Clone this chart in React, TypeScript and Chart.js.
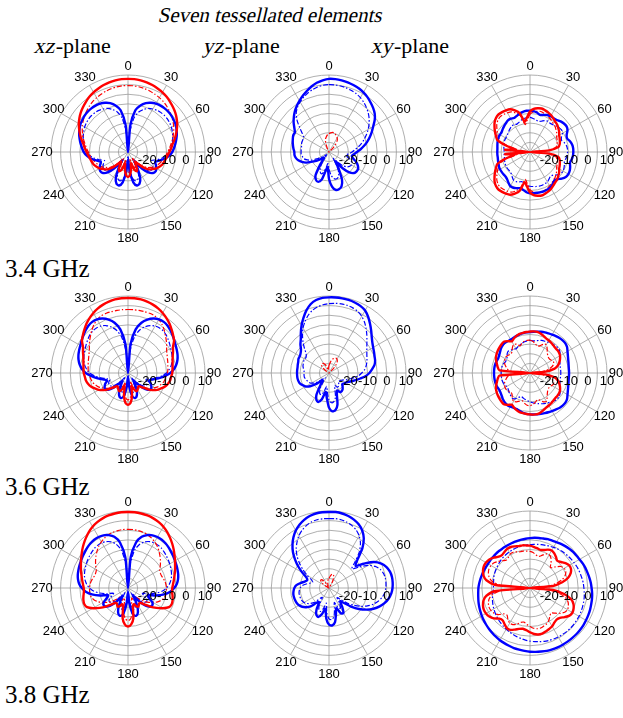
import React, { useEffect, useRef } from "react";
import { Chart, registerables } from "chart.js";

Chart.register(...registerables);

// Angle categories (degrees, clockwise from the top) and axis ticks
const ANGLES = [
  0, 5, 10, 15, 20, 25, 30, 35, 40, 45, 50, 55, 60, 65, 70, 75, 80, 85,
  90, 95, 100, 105, 110, 115, 120, 125, 130, 135, 140, 145, 150, 155, 160, 165, 170, 175,
  180, 185, 190, 195, 200, 205, 210, 215, 220, 225, 230, 235, 240, 245, 250, 255, 260, 265,
  270, 275, 280, 285, 290, 295, 300, 305, 310, 315, 320, 325, 330, 335, 340, 345, 350, 355,
];
const ANGLE_TICKS = [0, 30, 60, 90, 120, 150, 180, 210, 240, 270, 300, 330];
const R_TICK_LABELS = [-20, -10, 0, 10];
const R_MIN = -30;
const R_MAX = 10;
const R_STEP = 5;

// ---- 3.4 GHz ----
const XZ34_RED = [8, 8, 7.8, 7.5, 7, 6.4, 5.8, 5, 4, 3, 2, 0.8, -0.5, -2, -3.5, -5, -6.5, -7.5, -8.5, -9.3, -10, -10.5, -11, -12, -13, -14.5, -16, -18.5, -22, -24, -21, -19, -20, -24, -21, -18, -17, -18, -21, -24, -20, -19, -21, -24, -22, -18.5, -16, -14.5, -13, -12, -11, -10.5, -10, -9.3, -8.5, -7.5, -6.5, -5, -3.5, -2, -0.5, 0.8, 2, 3, 4, 5, 5.8, 6.4, 7, 7.5, 7.8, 8];
const XZ34_RED_DASH = [4.5, 4.5, 4.3, 4, 3.6, 3.1, 2.6, 2, 1.2, 0.3, -0.6, -1.6, -2.6, -3.8, -5, -6.2, -7.4, -8.4, -9.4, -10.2, -11, -11.8, -12.6, -13.5, -14.5, -16, -17.5, -20, -23, -26, -23, -21, -22, -26, -23, -20, -19, -20, -23, -26, -22, -21, -23, -26, -23, -20, -17.5, -16, -14.5, -13.5, -12.6, -11.8, -11, -10.2, -9.4, -8.4, -7.4, -6.2, -5, -3.8, -2.6, -1.6, -0.6, 0.3, 1.2, 2, 2.6, 3.1, 3.6, 4, 4.3, 4.5];
const XZ34_BLUE = [-30, -16, -8, -5, -3, -1.8, -1, -0.6, -0.4, -0.4, -0.6, -1, -1.4, -2.2, -3, -4, -5, -6, -7, -8.5, -10.5, -13, -15, -14, -13, -12.5, -13, -15, -19, -24, -20, -15, -12.5, -12, -14, -20, -26, -20, -14, -12, -12.5, -15, -20, -24, -19, -15, -13, -12.5, -13, -14, -15, -13, -10.5, -8.5, -7, -6, -5, -4, -3, -2.2, -1.4, -1, -0.6, -0.4, -0.4, -0.6, -1, -1.8, -3, -5, -8, -16];
const XZ34_BLUE_DASH = [-30, -20, -12, -8.5, -6.5, -5, -4.2, -3.6, -3.3, -3.2, -3.3, -3.6, -4, -4.6, -5.3, -6, -6.8, -7.6, -8.5, -10, -12, -14.5, -17, -16, -15, -14.5, -15, -17, -21, -26, -22, -17, -15, -14.5, -16, -22, -28, -22, -16, -14.5, -15, -17, -22, -26, -21, -17, -15, -14.5, -15, -16, -17, -14.5, -12, -10, -8.5, -7.6, -6.8, -6, -5.3, -4.6, -4, -3.6, -3.3, -3.2, -3.3, -3.6, -4.2, -5, -6.5, -8.5, -12, -20];

const YZ34_BLUE = [8, 8, 7.8, 7.5, 7, 6.5, 5.8, 4.8, 3.6, 2.4, 1, -1, -3.5, -5.5, -7.5, -9.5, -11.5, -13.5, -15.5, -17, -18, -17, -15, -13.5, -12.5, -12.5, -13, -15, -19, -24, -20, -14, -11, -10, -10, -12, -16, -22, -20, -15, -13.5, -14, -16, -22, -26, -26, -24, -22, -20, -17, -15, -13.5, -12.5, -12, -12, -11.5, -11, -10.5, -10, -9.5, -9.5, -8, -6, -4.2, -2.4, -0.8, 0.7, 2.2, 3.7, 5.2, 6.5, 7.4];
const YZ34_BLUE_DASH = [5, 5, 4.8, 4.5, 4, 3.4, 2.6, 1.5, 0.2, -1.2, -2.8, -4.6, -6.5, -8.5, -10.5, -12.5, -14.5, -16.5, -18, -19.5, -21, -20, -18, -17, -16.5, -17, -18, -20, -23, -26, -22, -18, -16, -15.5, -16, -18, -21, -24, -22, -19, -18, -19, -21, -25, -28, -28, -27, -25, -23, -20, -18, -16.5, -16, -15.5, -15.5, -15.5, -15.5, -15.2, -15, -15, -14.8, -13, -10, -6.5, -3.5, -1.5, 0, 1.3, 2.5, 3.5, 4.3, 4.8];
const YZ34_RED_DASH = [-20.5, -20, -19.6, -19.7, -20.2, -20.8, -21.5, -22.5, -24.5, -27, -30, -30, -30, -30, -30, -30, -30, -30, -30, -30, -30, -30, -30, -30, -30, -30, -30, -30, -30, -30, -30, -30, -30, -30, -30, -30, -30, -30, -30, -30, -30, -30, -30, -30, -30, -30, -30, -30, -30, -30, -30, -30, -30, -30, -30, -30, -30, -30, -30, -30, -30, -30, -30, -30, -30, -30, -30, -28, -25, -23, -22, -21];

const XY34_RED = [-9, -7.5, -6.9, -6.6, -7, -7.4, -8, -8.8, -9.5, -10, -10.8, -11.5, -12.5, -13, -13.5, -14, -15, -20, -30, -20, -15, -14, -13.5, -13, -12.5, -11.5, -10.8, -10, -9.5, -8.8, -8, -7.4, -7, -6.6, -6.9, -7.5, -9, -12, -14, -9, -7, -5.5, -5, -4.7, -4.5, -5, -6, -7.5, -9, -10.5, -12, -17, -22, -17, -30, -17, -22, -17, -12, -10.5, -9, -7.5, -6, -5, -4.5, -4.7, -5, -5.5, -7, -9, -14, -12];
const XY34_RED_DASH = [-10.5, -9, -8.5, -8.2, -8.6, -9, -9.6, -10.3, -11, -11.5, -12.3, -13, -14, -14.5, -15, -15.5, -16.5, -21, -30, -21, -16.5, -15.5, -15, -14.5, -14, -13, -12.3, -11.5, -11, -10.3, -9.6, -9, -8.6, -8.2, -8.5, -9, -10.5, -13.5, -15.5, -10.5, -8.5, -7, -6.5, -6.2, -6, -6.5, -7.5, -9, -10.5, -12, -13.5, -18.5, -23.5, -18.5, -30, -18.5, -23.5, -18.5, -13.5, -12, -10.5, -9, -7.5, -6.5, -6, -6.2, -6.5, -7, -8.5, -10.5, -15.5, -13.5];
const XY34_BLUE = [-8.5, -8.7, -9.2, -10, -9.5, -8.8, -8.5, -8.6, -8.3, -7.5, -7, -6.8, -7.5, -9, -9.5, -8.5, -7.8, -7.5, -7.5, -7.6, -8, -8.5, -7.8, -7.2, -7, -7.3, -8.5, -10, -10.5, -9.5, -8.8, -8.5, -8.4, -8.4, -8.5, -8.5, -8.5, -9, -10, -10.5, -10, -9.5, -9.5, -10.5, -11.5, -12, -12, -12, -12, -12.2, -12.5, -12.8, -13, -13, -13, -13, -12.8, -12.5, -12.2, -12, -12, -12, -11.5, -11, -10.5, -10, -10, -10.5, -10, -9.3, -8.8, -8.5];
const XY34_BLUE_DASH = [-12, -12.5, -13, -13.5, -13, -12, -11.5, -11.8, -11.5, -10.8, -10.3, -10, -10.5, -12, -12.5, -11.5, -10.8, -10.5, -10.5, -10.6, -11, -11.5, -11, -10.5, -10.2, -10.5, -11.5, -13, -13.5, -12.8, -12, -11.8, -11.6, -11.6, -11.8, -12, -12.2, -12.5, -13.5, -14, -13.5, -13, -13, -14, -15, -15.5, -15.5, -15.5, -15.5, -15.8, -16, -16.2, -16.5, -16.5, -16.5, -16.5, -16.2, -16, -15.8, -15.5, -15.5, -15.5, -15, -14.5, -14, -13.5, -13.5, -14, -13.5, -12.8, -12.3, -12];

// ---- 3.6 GHz ----
const XZ36_RED = [9, 9, 8.8, 8.4, 7.8, 7, 6, 4.8, 3.5, 2, 0.6, -0.8, -3, -4.2, -5.3, -6, -6.5, -6.8, -7, -7.5, -7.8, -8.5, -9.5, -11, -12.5, -14.5, -17, -19.5, -21, -21, -20, -19.5, -21, -23, -18, -14.5, -13.5, -14.5, -18, -23, -21, -19.5, -20, -21, -21, -19.5, -17, -14.5, -12.5, -11, -9.5, -8.5, -7.8, -7.5, -7, -6.8, -6.5, -6, -5.3, -4.2, -3, -0.8, 0.6, 2, 3.5, 4.8, 6, 7, 7.8, 8.4, 8.8, 9];
const XZ36_RED_DASH = [3, 3, 3, 3, 3, 2.8, 2, 0.8, -0.8, -2.5, -4, -5.5, -6.8, -7.6, -8.2, -8.6, -9, -9.2, -9.5, -10, -10.5, -11, -12, -13, -14.5, -16, -18, -20.5, -22.5, -23, -22, -21.5, -23, -25, -20.5, -17, -16, -17, -20.5, -25, -23, -21.5, -22, -23, -22.5, -20.5, -18, -16, -14.5, -13, -12, -11, -10.5, -10, -9.5, -9.2, -9, -8.6, -8.2, -7.6, -6.8, -5.5, -4, -2.5, -0.8, 0.8, 2, 2.8, 3, 3, 3, 3];
const XZ36_BLUE = [-30, -15, -7, -3, -0.5, 1.2, 2.2, 2.4, 2, 1.2, 0.3, -0.6, -1.4, -2, -2.6, -3.4, -4.5, -6, -8, -11, -14, -17, -18.5, -17, -16, -15.5, -16.5, -19, -23, -25, -22, -19, -17, -16.5, -18, -23, -28, -23, -18, -16.5, -17, -19, -22, -25, -23, -19, -16.5, -15.5, -16, -17, -18.5, -17, -14, -11, -8, -6, -4.5, -3.4, -2.6, -2, -1.4, -0.6, 0.3, 1.2, 2, 2.4, 2.2, 1.2, -0.5, -3, -7, -15];
const XZ36_BLUE_DASH = [-30, -19, -11, -7, -4.5, -2.8, -1.8, -1.4, -1.5, -2, -2.8, -3.6, -4.4, -5, -5.6, -6.3, -7.2, -8.5, -10, -12.5, -15.5, -18.5, -20, -19, -18.5, -18.5, -19.5, -22, -25, -27, -24, -21.5, -20, -19.5, -21, -25, -29, -25, -21, -19.5, -20, -21.5, -24, -27, -25, -22, -19.5, -18.5, -18.5, -19, -20, -18.5, -15.5, -12.5, -10, -8.5, -7.2, -6.3, -5.6, -5, -4.4, -3.6, -2.8, -2, -1.5, -1.4, -1.8, -2.8, -4.5, -7, -11, -19];

const YZ36_BLUE = [9.3, 9.4, 9.4, 9.3, 9, 8.5, 7.5, 5.5, 3.2, 1, -1, -2.5, -3.5, -4.2, -4.8, -5.2, -6, -7.5, -9, -11, -13.5, -15.5, -17.5, -19, -20, -20.5, -21, -20, -19, -18.5, -18.5, -20, -18, -13, -10.5, -10, -12, -17, -20, -16, -14, -14.5, -17, -22, -25, -24, -21, -18, -16, -15, -14, -13.6, -13.4, -13.4, -13.4, -13.4, -13.4, -13.2, -13, -12.5, -12.5, -12, -11, -9, -7.2, -4.5, -1.5, 1.5, 4.5, 7, 8.5, 9.2];
const YZ36_BLUE_DASH = [6, 6.3, 6.5, 6.4, 6, 5.3, 4, 2.2, 0, -2.2, -4.3, -6, -7.3, -8.3, -9, -9.7, -10.5, -11.5, -13, -14.5, -16.5, -18.5, -20, -21.5, -22.5, -23, -23.5, -23, -22, -21.5, -21.5, -23, -21, -17, -15, -14.5, -16, -20, -23, -20, -18, -18.5, -21, -25, -27, -26, -23, -21, -19.5, -18.5, -18, -17.5, -17, -17, -17, -17, -16.5, -16, -15.8, -15.5, -15.5, -15.5, -14.5, -12, -9, -6, -3, -0.5, 1.8, 3.6, 4.8, 5.6];
const YZ36_RED_DASH = [-26, -25, -23.5, -22.5, -21.8, -21.5, -21.7, -22.5, -24, -27, -30, -30, -30, -30, -30, -30, -30, -30, -30, -30, -30, -30, -30, -30, -30, -30, -30, -30, -30, -30, -30, -30, -30, -30, -30, -30, -30, -30, -30, -30, -30, -30, -30, -30, -30, -30, -30, -30, -30, -30, -30, -30, -30, -30, -30, -30, -30, -30, -30, -30, -30, -28, -26, -24.5, -24, -24, -24.2, -25, -26.5, -28, -28.5, -27.5];

const XY36_RED = [-8.5, -8.3, -8.3, -8.8, -9.5, -10.2, -10.5, -10.8, -11.2, -11.5, -11.5, -11.6, -12, -12.8, -13.8, -15, -17, -22, -30, -22, -17, -15, -13.8, -12.8, -12, -11.6, -11.5, -11.5, -11.2, -10.8, -10.5, -10.2, -9.5, -8.8, -8.3, -8.3, -8.5, -8.6, -8.8, -9, -9.5, -10.2, -11, -9.8, -8.8, -9, -9.3, -9.6, -10, -10.5, -11.3, -12.2, -13, -14, -30, -14, -13, -12.2, -11.3, -10.5, -10, -9.6, -9.3, -9, -8.8, -9.8, -11, -10.2, -9.5, -9, -8.8, -8.6];
const XY36_RED_DASH = [-13, -13.5, -14.5, -15.5, -15, -13.5, -13, -14.5, -16, -17, -17.5, -17.5, -17, -16.5, -17, -18.5, -21, -25, -30, -25, -21, -18.5, -17, -16.5, -17, -17.5, -17.5, -17, -16, -14.5, -13, -13.5, -15, -15.5, -14.5, -13.5, -13, -13.2, -14, -15, -14.5, -13.5, -13, -14, -15.5, -16, -15.5, -15, -15, -15.5, -16, -17, -18, -20, -30, -20, -18, -17, -16, -15.5, -15, -15, -15.5, -16, -15.5, -14, -13, -13.5, -15, -14, -13.2, -13];
const XY36_BLUE = [-8.7, -8.5, -8.2, -7.8, -7.5, -7.3, -7, -6.6, -6.2, -6, -6, -6.5, -7.5, -8.3, -8.9, -9.3, -9.6, -9.7, -9.7, -9.7, -9.6, -9.3, -8.9, -8.3, -7.5, -6.5, -6, -6, -6.3, -6.8, -7.2, -7.5, -7.8, -8, -8.2, -8.4, -8.5, -8.7, -9, -9.5, -10, -10, -9.8, -9.6, -9.8, -10.3, -11, -11.5, -11.8, -11.6, -11.4, -11.3, -11.3, -11.3, -11.3, -11.3, -11.3, -11.4, -11.6, -11.8, -11.5, -11, -10.3, -9.8, -9.6, -9.8, -10, -9.8, -9.5, -9.2, -9, -8.8];
const XY36_BLUE_DASH = [-13, -13.2, -13, -12.5, -12, -11.8, -11.5, -11, -10.8, -10.5, -10.5, -11, -12, -13, -13.5, -13.8, -14, -14, -14, -14, -14, -13.8, -13.5, -13, -12, -11, -10.5, -10.5, -11, -11.5, -12, -12.5, -13, -13.5, -14, -14.5, -15, -15.5, -16, -16.5, -17, -16, -14.5, -14, -14.5, -15, -15.5, -16, -16, -15.5, -15.2, -15, -15, -15, -15, -15, -15, -15.2, -15.5, -16, -16, -15.5, -14.5, -14, -14.5, -15, -15.5, -15, -14.5, -14, -13.5, -13.2];

// ---- 3.8 GHz ----
const XZ38_RED = [9.5, 9.5, 9.3, 9, 8.5, 7.8, 6.8, 5.5, 4, 2.5, 1, -0.5, -1.8, -3, -4, -5, -5.8, -6.5, -7, -7, -6.5, -6, -5.8, -6.5, -9, -12, -15, -18, -20, -20, -19, -19.5, -21, -20, -14, -11, -10, -11, -14, -20, -21, -19.5, -19, -20, -20, -18, -15, -12, -9, -6.5, -5.8, -6, -6.5, -7, -7, -6.5, -5.8, -5, -4, -3, -1.8, -0.5, 1, 2.5, 4, 5.5, 6.8, 7.8, 8.5, 9, 9.3, 9.5];
const XZ38_RED_DASH = [0.5, 0.5, 0.3, 0, -0.5, -1.3, -2.3, -3.5, -5, -6.5, -8, -9.5, -11, -11.5, -11.5, -11, -10.5, -10.2, -10, -10, -10, -10.5, -11.5, -13, -15, -17, -19.5, -22, -24, -24, -23, -23, -24.5, -23, -17, -14, -13, -14, -17, -23, -24.5, -23, -23, -24, -24, -22, -19.5, -17, -15, -13, -11.5, -10.5, -10, -10, -10, -10.2, -10.5, -11, -11.5, -11.5, -11, -9.5, -8, -6.5, -5, -3.5, -2.3, -1.3, -0.5, 0, 0.3, 0.5];
const XZ38_BLUE = [-30, -14, -6, -2.5, -0.8, 0.2, 0.6, 0.6, 0.3, -0.2, -0.8, -1.3, -1.8, -2.2, -2.6, -3, -3.6, -4.5, -6, -8, -11, -15, -19, -18, -15.5, -14.5, -15, -17, -21, -25, -22, -18, -15.5, -15, -16.5, -22, -28, -22, -16.5, -15, -15.5, -18, -22, -25, -21, -17, -15, -14.5, -15.5, -18, -19, -15, -11, -8, -6, -4.5, -3.6, -3, -2.6, -2.2, -1.8, -1.3, -0.8, -0.2, 0.3, 0.6, 0.6, 0.2, -0.8, -2.5, -6, -14];
const XZ38_BLUE_DASH = [-30, -18, -10, -6.5, -4.5, -3.4, -2.9, -2.8, -3, -3.5, -4, -4.5, -5, -5.5, -6, -6.6, -7.4, -8.5, -10, -12, -15, -18.5, -22, -21, -19, -18, -18.5, -20.5, -24, -27, -25, -21.5, -19, -18.5, -20, -25, -29, -25, -20, -18.5, -19, -21.5, -25, -27, -24, -20.5, -18.5, -18, -19, -21, -22, -18.5, -15, -12, -10, -8.5, -7.4, -6.6, -6, -5.5, -5, -4.5, -4, -3.5, -3, -2.8, -2.9, -3.4, -4.5, -6.5, -10, -18];

const YZ38_BLUE = [9.5, 9.6, 9.3, 8.7, 7.8, 6.5, 4.5, 1.5, -3, -9, -12, -8, -3, 0, 1.8, 2.8, 3.2, 3.2, 3, 2.5, 1.5, 0, -2, -4.5, -7.5, -11, -15, -19, -21, -18, -15, -15.5, -19, -16, -12, -10.5, -11, -14, -19, -16, -14, -14.5, -17, -21, -20, -16.5, -14.5, -13, -12, -11.5, -11.3, -11.2, -11.2, -11.5, -12, -13, -15, -17, -18, -17, -14, -10.5, -7, -3.5, -0.5, 2.2, 4.5, 6.3, 7.7, 8.7, 9.3, 9.5];
const YZ38_BLUE_DASH = [6, 6.2, 6, 5.5, 4.6, 3.3, 1.3, -1.5, -5.5, -11, -14.5, -11, -6.5, -3.5, -1.7, -0.7, -0.3, -0.3, -0.5, -1, -2, -3.5, -5.5, -8, -11, -14.5, -18, -21.5, -23.5, -21, -18, -18.5, -22, -19, -15, -13.5, -14, -17, -22, -19, -17, -17.5, -20, -24, -23, -19.5, -17.5, -16, -15, -14.5, -14.3, -14.2, -14.2, -14.5, -15, -16, -18, -20, -21, -20, -17, -13.5, -10, -6.5, -3.5, -1, 1.3, 3.1, 4.5, 5.5, 6, 6.1];
const YZ38_RED_DASH = [-25, -24, -23, -22.5, -23, -24.5, -27, -30, -30, -30, -30, -30, -30, -30, -30, -30, -30, -30, -30, -30, -30, -30, -30, -30, -30, -30, -30, -30, -30, -30, -30, -30, -30, -30, -30, -30, -30, -30, -30, -30, -30, -30, -30, -30, -30, -30, -30, -30, -30, -30, -30, -30, -30, -30, -30, -30, -30, -30, -30, -30, -28, -26, -24.5, -24, -24.5, -26, -28, -29, -28.5, -27.5, -26.5, -25.5];

const XY38_RED = [-8, -8.5, -9, -9.5, -9, -8, -7.5, -8, -9, -10, -9, -7.5, -6.5, -6.5, -7.5, -9.5, -13, -18, -30, -18, -12, -8, -6, -5, -4.5, -5, -6.5, -8, -8.5, -8, -7, -6.5, -6, -5.5, -5.5, -6, -7, -8, -8.5, -8, -7, -6, -6, -7, -8, -7.5, -5.5, -4.2, -3.6, -3.5, -4, -5, -7, -12, -30, -12, -7, -5, -4, -3.5, -3.6, -4.2, -5.5, -7, -7.5, -7, -6.5, -6.5, -7, -7.5, -7.5, -7.8];
const XY38_RED_DASH = [-11, -11.5, -12.5, -13, -12, -10.5, -10, -11, -13, -15, -13, -10.5, -9.5, -9.5, -10.5, -12.5, -16, -21, -30, -21, -15, -11, -9, -8, -7.5, -8, -9.5, -11.5, -13, -12, -10.5, -9.5, -9, -8.5, -8.5, -9, -10, -11, -12, -11.5, -10, -9, -9, -10, -11.5, -11, -8.5, -7.2, -6.6, -6.5, -7, -8, -10, -15, -30, -15, -10, -8, -7, -6.5, -6.6, -7.2, -8.5, -10, -11, -10.5, -9.5, -9.5, -10, -10.5, -10.5, -10.8];
const XY38_BLUE = [-4.1, -3.8, -3.6, -3.4, -3, -2.8, -2.5, -2, -1.6, -1.2, -0.8, -0.6, -0.3, 0.2, 0.6, 0.9, 1.3, 1.7, 2, 2.4, 2.7, 2.9, 3.2, 3.4, 3.6, 3.8, 3.9, 4, 4, 4, 4, 4, 3.9, 3.8, 3.5, 3.3, 3.1, 2.8, 2.5, 2.3, 1.9, 1.6, 1.3, 0.9, 0.5, 0.1, -0.3, -0.7, -1.1, -1.5, -1.9, -2.3, -2.7, -3, -3.2, -3.5, -3.8, -4.1, -4.4, -4.6, -4.8, -4.8, -4.9, -4.9, -4.9, -5, -5, -4.9, -4.8, -4.7, -4.5, -4.3];
const XY38_BLUE_DASH = [-7.5, -7.2, -7, -6.7, -6.4, -6, -5.6, -5.2, -4.8, -4.5, -4.2, -3.9, -3.6, -3.3, -3, -2.8, -2.5, -2.2, -2, -1.7, -1.4, -1.2, -1, -0.8, -0.6, -0.5, -0.4, -0.4, -0.4, -0.5, -0.6, -0.8, -1, -1.3, -1.7, -2, -2.4, -2.8, -3.3, -3.8, -4.3, -4.8, -5.3, -5.8, -6.3, -6.8, -7.3, -7.8, -8.3, -8.8, -9.3, -9.8, -10.3, -10.8, -11, -11, -10.8, -10.5, -10.2, -10, -9.8, -9.6, -9.3, -9, -8.8, -8.6, -8.4, -8.2, -8, -7.9, -7.8, -7.6];

const RED = "#ff0000";
const BLUE = "#0000ff";
const GRID = "#9a9a9a";

type Trace = { values: number[]; color: string; dashed: boolean };

// first entry is drawn on top
const PANELS: Trace[][][] = [
  [
    [
      { values: XZ34_RED, color: RED, dashed: false },
      { values: XZ34_BLUE, color: BLUE, dashed: false },
      { values: XZ34_RED_DASH, color: RED, dashed: true },
      { values: XZ34_BLUE_DASH, color: BLUE, dashed: true },
    ],
    [
      { values: YZ34_BLUE, color: BLUE, dashed: false },
      { values: YZ34_RED_DASH, color: RED, dashed: true },
      { values: YZ34_BLUE_DASH, color: BLUE, dashed: true },
    ],
    [
      { values: XY34_RED, color: RED, dashed: false },
      { values: XY34_BLUE, color: BLUE, dashed: false },
      { values: XY34_RED_DASH, color: RED, dashed: true },
      { values: XY34_BLUE_DASH, color: BLUE, dashed: true },
    ],
  ],
  [
    [
      { values: XZ36_RED, color: RED, dashed: false },
      { values: XZ36_BLUE, color: BLUE, dashed: false },
      { values: XZ36_RED_DASH, color: RED, dashed: true },
      { values: XZ36_BLUE_DASH, color: BLUE, dashed: true },
    ],
    [
      { values: YZ36_BLUE, color: BLUE, dashed: false },
      { values: YZ36_RED_DASH, color: RED, dashed: true },
      { values: YZ36_BLUE_DASH, color: BLUE, dashed: true },
    ],
    [
      { values: XY36_RED, color: RED, dashed: false },
      { values: XY36_BLUE, color: BLUE, dashed: false },
      { values: XY36_RED_DASH, color: RED, dashed: true },
      { values: XY36_BLUE_DASH, color: BLUE, dashed: true },
    ],
  ],
  [
    [
      { values: XZ38_RED, color: RED, dashed: false },
      { values: XZ38_BLUE, color: BLUE, dashed: false },
      { values: XZ38_RED_DASH, color: RED, dashed: true },
      { values: XZ38_BLUE_DASH, color: BLUE, dashed: true },
    ],
    [
      { values: YZ38_BLUE, color: BLUE, dashed: false },
      { values: YZ38_RED_DASH, color: RED, dashed: true },
      { values: YZ38_BLUE_DASH, color: BLUE, dashed: true },
    ],
    [
      { values: XY38_RED, color: RED, dashed: false },
      { values: XY38_BLUE, color: BLUE, dashed: false },
      { values: XY38_RED_DASH, color: RED, dashed: true },
      { values: XY38_BLUE_DASH, color: BLUE, dashed: true },
    ],
  ],
];

const FREQ_LABELS = ["3.4 GHz", "3.6 GHz", "3.8 GHz"];
const PLANE_VARS = ["xz", "yz", "xy"];

// layout
const COL_X = [128, 329, 530];
const ROW_Y = [152, 373, 588];
const CANVAS = 214;
const RADIUS = 77;
const PAD = CANVAS / 2 - RADIUS;
const LABEL_R = 86;

const polarLabels = {
  id: "polarLabels",
  afterDraw(chart: any) {
    const scale = chart.scales.r;
    const ctx = chart.ctx;
    ctx.save();
    ctx.font = '13px "Liberation Sans", Arial, sans-serif';
    ctx.fillStyle = "#000";
    ctx.textAlign = "center";
    ctx.textBaseline = "middle";
    const outer = scale.getDistanceFromCenterForValue(R_MAX);
    ANGLE_TICKS.forEach((a) => {
      const p = scale.getPointPosition(ANGLES.indexOf(a), outer + (LABEL_R - RADIUS));
      ctx.fillText(String(a), p.x, p.y);
    });
    R_TICK_LABELS.forEach((v) => {
      const d = scale.getDistanceFromCenterForValue(v);
      ctx.fillText(String(v), scale.xCenter + d, scale.yCenter + 8);
    });
    ctx.restore();
  },
};

function PolarPanel({ cx, cy, traces }: { cx: number; cy: number; traces: Trace[] }) {
  const ref = useRef<HTMLCanvasElement>(null);
  useEffect(() => {
    const chart = new Chart(ref.current as HTMLCanvasElement, {
      type: "radar",
      data: {
        labels: ANGLES.map(String),
        datasets: traces.map((t) => ({
          data: t.values,
          borderColor: t.color,
          backgroundColor: "transparent",
          borderWidth: t.dashed ? 1.2 : 2.4,
          borderDash: t.dashed ? [5, 2, 1.5, 2] : [],
          borderJoinStyle: "round",
          pointRadius: 0,
          pointHoverRadius: 0,
          fill: false,
          tension: 0.25,
        })),
      },
      options: {
        responsive: false,
        animation: false,
        devicePixelRatio: 1,
        layout: { padding: PAD },
        plugins: { legend: { display: false }, tooltip: { enabled: false } },
        scales: {
          r: {
            min: R_MIN,
            max: R_MAX,
            startAngle: 0,
            ticks: { display: false, stepSize: R_STEP },
            grid: { circular: true, color: GRID, lineWidth: 0.8 },
            angleLines: {
              color: GRID,
              lineWidth: (c: any) => (ANGLES[c.index] % 30 === 0 ? 0.8 : 0),
            },
            pointLabels: { display: false },
          },
        },
      } as any,
      plugins: [polarLabels],
    });
    return () => chart.destroy();
  }, [traces]);
  return (
    <canvas
      ref={ref}
      width={CANVAS}
      height={CANVAS}
      style={{ position: "absolute", left: cx - CANVAS / 2, top: cy - CANVAS / 2, width: CANVAS, height: CANVAS }}
    />
  );
}

const serif = '"Liberation Serif"';
// Times-style slanted text
const slant: React.CSSProperties = { display: "inline-block", transform: "skewX(-13deg)", fontStyle: "normal" };

export default function App() {
  return (
    <div style={{ position: "absolute", left: 0, top: 0, width: 623, height: 718, background: "#fff", overflow: "hidden", fontFamily: serif, color: "#000" }}>
      <div style={{ position: "absolute", left: 159, top: 5, fontSize: 21, lineHeight: "21px", whiteSpace: "nowrap" }}>
        <span style={slant}>Seven tessellated elements</span>
      </div>
      {PLANE_VARS.map((v, i) => (
        <div key={v} style={{ position: "absolute", left: [35, 204, 372][i], top: 35, fontSize: 22, lineHeight: "22px", whiteSpace: "nowrap" }}>
          <span style={slant}>{v}</span>-plane
        </div>
      ))}
      {FREQ_LABELS.map((f, i) => (
        <div key={f} style={{ position: "absolute", left: 5, top: [256, 474, 682][i], fontSize: 25, lineHeight: "25px", whiteSpace: "nowrap" }}>
          {f}
        </div>
      ))}
      {PANELS.map((row, r) =>
        row.map((traces, c) => <PolarPanel key={`${r}-${c}`} cx={COL_X[c]} cy={ROW_Y[r]} traces={traces} />)
      )}
    </div>
  );
}
